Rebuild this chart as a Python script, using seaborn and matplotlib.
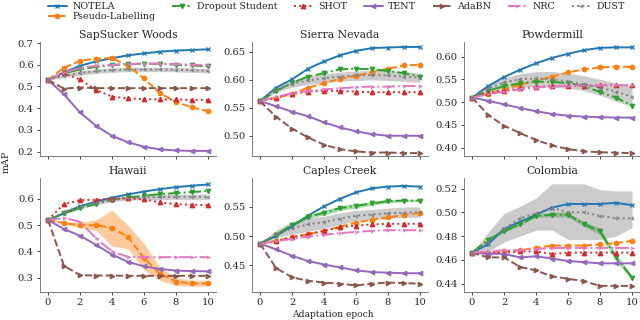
import numpy as np
import pandas as pd
import matplotlib
matplotlib.use("Agg")
import matplotlib.pyplot as plt
import seaborn as sns

epochs = list(range(11))
methods = ["NOTELA", "Pseudo-Labelling", "Dropout Student", "SHOT", "TENT", "AdaBN", "NRC", "DUST"]
sites = ["SapSucker Woods", "Sierra Nevada", "Powdermill", "Hawaii", "Caples Creek", "Colombia"]

sapsucker = {
    "NOTELA": [0.530, 0.565, 0.595, 0.615, 0.630, 0.643, 0.652, 0.660, 0.665, 0.668, 0.671],
    "Pseudo-Labelling": [0.530, 0.586, 0.618, 0.628, 0.631, 0.595, 0.537, 0.468, 0.429, 0.403, 0.386],
    "Dropout Student": [0.530, 0.560, 0.578, 0.590, 0.598, 0.603, 0.605, 0.604, 0.600, 0.597, 0.592],
    "SHOT": [0.530, 0.560, 0.532, 0.484, 0.453, 0.445, 0.442, 0.440, 0.440, 0.438, 0.438],
    "TENT": [0.530, 0.463, 0.380, 0.319, 0.272, 0.243, 0.222, 0.210, 0.205, 0.203, 0.203],
    "AdaBN": [0.530, 0.490, 0.495, 0.492, 0.492, 0.492, 0.492, 0.492, 0.492, 0.492, 0.492],
    "NRC": [0.530, 0.565, 0.585, 0.595, 0.600, 0.603, 0.605, 0.605, 0.603, 0.600, 0.598],
    "DUST": [0.530, 0.550, 0.562, 0.570, 0.575, 0.578, 0.578, 0.578, 0.577, 0.575, 0.572],
}
sierra = {
    "NOTELA": [0.562, 0.586, 0.601, 0.620, 0.633, 0.644, 0.652, 0.657, 0.658, 0.659, 0.659],
    "Pseudo-Labelling": [0.562, 0.568, 0.575, 0.586, 0.594, 0.602, 0.607, 0.614, 0.620, 0.626, 0.627],
    "Dropout Student": [0.562, 0.580, 0.595, 0.606, 0.612, 0.619, 0.620, 0.619, 0.616, 0.612, 0.606],
    "SHOT": [0.562, 0.568, 0.575, 0.579, 0.581, 0.580, 0.579, 0.578, 0.578, 0.578, 0.578],
    "TENT": [0.562, 0.553, 0.543, 0.535, 0.524, 0.515, 0.508, 0.503, 0.500, 0.500, 0.500],
    "AdaBN": [0.562, 0.534, 0.513, 0.497, 0.484, 0.476, 0.472, 0.470, 0.470, 0.469, 0.469],
    "NRC": [0.562, 0.570, 0.576, 0.580, 0.583, 0.585, 0.587, 0.588, 0.588, 0.589, 0.589],
    "DUST": [0.562, 0.582, 0.593, 0.599, 0.603, 0.606, 0.608, 0.609, 0.608, 0.606, 0.604],
}
powdermill = {
    "NOTELA": [0.510, 0.535, 0.555, 0.571, 0.585, 0.597, 0.606, 0.614, 0.619, 0.620, 0.620],
    "Pseudo-Labelling": [0.510, 0.518, 0.528, 0.538, 0.547, 0.556, 0.565, 0.572, 0.576, 0.578, 0.577],
    "Dropout Student": [0.510, 0.525, 0.535, 0.541, 0.545, 0.544, 0.542, 0.535, 0.522, 0.510, 0.492],
    "SHOT": [0.510, 0.520, 0.525, 0.530, 0.533, 0.535, 0.536, 0.536, 0.537, 0.537, 0.537],
    "TENT": [0.510, 0.503, 0.495, 0.487, 0.480, 0.474, 0.470, 0.468, 0.467, 0.466, 0.466],
    "AdaBN": [0.510, 0.472, 0.448, 0.432, 0.417, 0.405, 0.397, 0.392, 0.390, 0.389, 0.388],
    "NRC": [0.510, 0.517, 0.523, 0.528, 0.532, 0.534, 0.536, 0.537, 0.537, 0.537, 0.537],
    "DUST": [0.510, 0.530, 0.543, 0.550, 0.552, 0.550, 0.545, 0.539, 0.532, 0.523, 0.512],
}
hawaii = {
    "NOTELA": [0.520, 0.545, 0.572, 0.590, 0.605, 0.617, 0.628, 0.637, 0.645, 0.650, 0.655],
    "Pseudo-Labelling": [0.520, 0.508, 0.500, 0.500, 0.489, 0.456, 0.374, 0.315, 0.285, 0.278, 0.278],
    "Dropout Student": [0.520, 0.545, 0.565, 0.580, 0.597, 0.606, 0.612, 0.618, 0.622, 0.626, 0.630],
    "SHOT": [0.520, 0.580, 0.595, 0.597, 0.600, 0.602, 0.598, 0.587, 0.580, 0.578, 0.576],
    "TENT": [0.520, 0.485, 0.460, 0.425, 0.388, 0.360, 0.343, 0.333, 0.327, 0.325, 0.324],
    "AdaBN": [0.520, 0.345, 0.310, 0.308, 0.308, 0.307, 0.307, 0.307, 0.307, 0.307, 0.307],
    "NRC": [0.520, 0.527, 0.513, 0.450, 0.400, 0.379, 0.378, 0.378, 0.378, 0.378, 0.378],
    "DUST": [0.520, 0.550, 0.570, 0.585, 0.597, 0.603, 0.606, 0.607, 0.608, 0.608, 0.608],
}
caples = {
    "NOTELA": [0.487, 0.500, 0.517, 0.535, 0.551, 0.564, 0.575, 0.582, 0.585, 0.586, 0.585],
    "Pseudo-Labelling": [0.487, 0.492, 0.498, 0.503, 0.509, 0.516, 0.523, 0.528, 0.532, 0.536, 0.540],
    "Dropout Student": [0.487, 0.502, 0.519, 0.533, 0.540, 0.548, 0.552, 0.556, 0.560, 0.561, 0.561],
    "SHOT": [0.487, 0.491, 0.498, 0.503, 0.509, 0.515, 0.518, 0.520, 0.521, 0.521, 0.521],
    "TENT": [0.487, 0.477, 0.466, 0.457, 0.451, 0.446, 0.441, 0.438, 0.437, 0.436, 0.436],
    "AdaBN": [0.487, 0.445, 0.429, 0.423, 0.420, 0.418, 0.415, 0.418, 0.420, 0.419, 0.418],
    "NRC": [0.487, 0.491, 0.495, 0.499, 0.502, 0.505, 0.507, 0.509, 0.510, 0.510, 0.510],
    "DUST": [0.487, 0.503, 0.513, 0.520, 0.524, 0.530, 0.535, 0.537, 0.539, 0.540, 0.541],
}
colombia = {
    "NOTELA": [0.466, 0.473, 0.486, 0.492, 0.498, 0.504, 0.507, 0.507, 0.507, 0.508, 0.506],
    "Pseudo-Labelling": [0.466, 0.466, 0.467, 0.468, 0.470, 0.472, 0.472, 0.472, 0.473, 0.474, 0.476],
    "Dropout Student": [0.466, 0.477, 0.484, 0.490, 0.497, 0.498, 0.498, 0.490, 0.484, 0.462, 0.445],
    "SHOT": [0.466, 0.466, 0.466, 0.467, 0.467, 0.465, 0.466, 0.466, 0.466, 0.466, 0.466],
    "TENT": [0.466, 0.465, 0.465, 0.462, 0.463, 0.461, 0.459, 0.458, 0.457, 0.457, 0.457],
    "AdaBN": [0.466, 0.462, 0.462, 0.454, 0.451, 0.446, 0.444, 0.442, 0.438, 0.438, 0.438],
    "NRC": [0.466, 0.467, 0.468, 0.468, 0.469, 0.470, 0.470, 0.470, 0.470, 0.470, 0.470],
    "DUST": [0.466, 0.475, 0.486, 0.495, 0.499, 0.504, 0.500, 0.500, 0.497, 0.495, 0.495],
}

# shaded spread (lower, upper) for the noisier runs
bands = {
    ("SapSucker Woods", "DUST"): ([0.530, 0.541, 0.552, 0.560, 0.565, 0.568, 0.568, 0.568, 0.567, 0.565, 0.563],
                                  [0.530, 0.558, 0.572, 0.580, 0.585, 0.588, 0.588, 0.588, 0.587, 0.585, 0.582]),
    ("Sierra Nevada", "DUST"): ([0.562, 0.578, 0.587, 0.592, 0.595, 0.598, 0.599, 0.600, 0.599, 0.597, 0.596],
                                [0.562, 0.586, 0.599, 0.606, 0.611, 0.614, 0.616, 0.617, 0.617, 0.615, 0.612]),
    ("Powdermill", "DUST"): ([0.510, 0.520, 0.530, 0.533, 0.535, 0.533, 0.530, 0.525, 0.515, 0.502, 0.490],
                             [0.510, 0.537, 0.553, 0.562, 0.567, 0.567, 0.563, 0.558, 0.550, 0.542, 0.535]),
    ("Hawaii", "DUST"): ([0.520, 0.543, 0.562, 0.577, 0.589, 0.595, 0.597, 0.598, 0.598, 0.598, 0.598],
                         [0.520, 0.557, 0.578, 0.593, 0.605, 0.611, 0.615, 0.617, 0.618, 0.618, 0.618]),
    ("Hawaii", "Pseudo-Labelling"): ([0.520, 0.503, 0.490, 0.480, 0.420, 0.410, 0.330, 0.290, 0.270, 0.268, 0.268],
                                     [0.520, 0.513, 0.510, 0.520, 0.558, 0.500, 0.430, 0.340, 0.300, 0.290, 0.290]),
    ("Caples Creek", "DUST"): ([0.487, 0.497, 0.503, 0.508, 0.513, 0.520, 0.526, 0.528, 0.530, 0.532, 0.532],
                               [0.487, 0.510, 0.525, 0.530, 0.534, 0.540, 0.544, 0.546, 0.548, 0.550, 0.550]),
    ("Caples Creek", "Dropout Student"): ([0.487, 0.500, 0.516, 0.530, 0.536, 0.544, 0.548, 0.553, 0.557, 0.559, 0.559],
                                          [0.487, 0.504, 0.522, 0.536, 0.544, 0.552, 0.556, 0.559, 0.563, 0.563, 0.563]),
    ("Colombia", "DUST"): ([0.466, 0.467, 0.475, 0.480, 0.485, 0.485, 0.477, 0.477, 0.477, 0.480, 0.487],
                           [0.466, 0.483, 0.499, 0.505, 0.512, 0.524, 0.524, 0.524, 0.519, 0.518, 0.518]),
    ("Colombia", "Dropout Student"): ([0.466, 0.476, 0.483, 0.489, 0.496, 0.496, 0.496, 0.488, 0.481, 0.459, 0.443],
                                      [0.466, 0.478, 0.485, 0.491, 0.498, 0.500, 0.500, 0.492, 0.487, 0.465, 0.447]),
}

site_data = dict(zip(sites, [sapsucker, sierra, powdermill, hawaii, caples, colombia]))
yticks = {
    "SapSucker Woods": [0.2, 0.3, 0.4, 0.5, 0.6, 0.7],
    "Sierra Nevada": [0.50, 0.55, 0.60, 0.65],
    "Powdermill": [0.40, 0.45, 0.50, 0.55, 0.60],
    "Hawaii": [0.3, 0.4, 0.5, 0.6],
    "Caples Creek": [0.45, 0.50, 0.55],
    "Colombia": [0.44, 0.46, 0.48, 0.50, 0.52],
}
ylims = {
    "SapSucker Woods": (0.18, 0.705),
    "Sierra Nevada": (0.464, 0.668),
    "Powdermill": (0.382, 0.632),
    "Hawaii": (0.246, 0.68),
    "Caples Creek": (0.404, 0.600),
    "Colombia": (0.433, 0.529),
}

palette = sns.color_palette("tab10")
styles = {
    "NOTELA": dict(color=palette[0], marker="x", linestyle="-"),
    "Pseudo-Labelling": dict(color=palette[1], marker="o", linestyle="--"),
    "Dropout Student": dict(color=palette[2], marker="v", linestyle="-."),
    "SHOT": dict(color=palette[3], marker="^", linestyle=":"),
    "TENT": dict(color=palette[4], marker="<", linestyle="-"),
    "AdaBN": dict(color=palette[5], marker=">", linestyle="--"),
    "NRC": dict(color=palette[6], marker="4", linestyle="-."),
    "DUST": dict(color=palette[7], marker="3", linestyle=":"),
}

sns.set_theme(style="ticks")
plt.rcParams["font.family"] = ["DejaVu Serif"]

fig, axes = plt.subplots(2, 3, figsize=(6.4, 3.2), dpi=100, sharex=True)
fig.subplots_adjust(left=0.0625, right=1.0, top=0.869, bottom=0.088, wspace=0.205, hspace=0.193)

for ax, site in zip(axes.flat, sites):
    data = site_data[site]
    for m in methods:
        st = styles[m]
        sns.lineplot(x=epochs, y=data[m], ax=ax, label=m, linewidth=1.4,
                     markersize=3.2, markeredgewidth=0.9, markeredgecolor=st["color"], **st)
        if (site, m) in bands:
            lo, hi = bands[(site, m)]
            ax.fill_between(epochs, lo, hi, color=st["color"], alpha=0.4, linewidth=0)
    ax.set_title(site, fontsize=7.8, pad=3)
    ax.set_yticks(yticks[site])
    ax.set_ylim(*ylims[site])
    ax.set_xticks([0, 2, 4, 6, 8, 10])
    ax.tick_params(labelsize=7.2, length=2.5, width=0.6, pad=2)
    for s in ax.spines.values():
        s.set_linewidth(0.6)
        s.set_color("#666666")
    ax.legend_.remove()
    sns.despine(ax=ax)

handles, labels = axes[0, 0].get_legend_handles_labels()
fig.legend(handles, labels, loc="upper left", bbox_to_anchor=(0.075, 0.993), ncol=7,
           frameon=False, fontsize=6.8, handlelength=2.0, columnspacing=1.75,
           handletextpad=0.6, labelspacing=0.1, borderpad=0.0, borderaxespad=0.0)

fig.text(0.01, 0.494, "mAP", rotation=90, va="center", ha="center", fontsize=6.8)
fig.text(0.52, 0.016, "Adaptation epoch", ha="center", va="center", fontsize=6.6)

fig.savefig("out.png", dpi=100)
